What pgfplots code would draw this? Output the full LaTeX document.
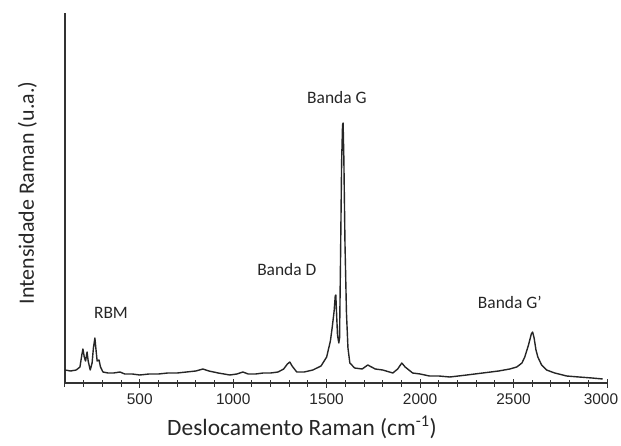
\documentclass[border=0pt]{standalone}
\usepackage{fontspec}
\setmainfont{Carlito}
\newfontfamily\arialf{Liberation Sans}
\usepackage{pgfplots}
\pgfplotsset{compat=1.18}

\begin{document}
\begin{tikzpicture}
\useasboundingbox (-65bp,-63bp) rectangle (556bp,383bp);
\begin{axis}[
    scale only axis,
    width=542bp,
    height=370bp,
    xmin=100, xmax=3000,
    ymin=0, ymax=370,
    axis lines*=left,
    axis line style={line width=1.3bp, black!80},
    xtick={500,1000,...,3000},
    xticklabels={500,1000,1500,2000,2500,{\hspace*{-12bp}3000}},
    minor xtick={100,200,...,3000},
    ytick=\empty,
    tick align=center,
    major tick length=9bp,
    minor tick length=7bp,
    tick style={line width=1bp, black!80},
    xticklabel style={font=\arialf\fontsize{15.5}{16}\selectfont, text=black!85, yshift=-3bp},
    /pgf/number format/assume math mode=true,
    /pgf/number format/1000 sep={},
    xlabel={Deslocamento Raman (cm\textsuperscript{-1})},
    ylabel={Intensidade Raman (u.a.)},
    xlabel style={font=\fontsize{23.5}{25}\selectfont, text=black!85, yshift=-4bp, xshift=-34bp},
    ylabel style={font=\fontsize{22}{24}\selectfont, text=black!85, yshift=20bp, xshift=5bp},
    clip=false,
]
\addplot[line width=1.4bp, black!85, line join=round] coordinates {
    (100,13) (130,12) (160,13) (180,16) (190,28) (196,34) (203,26) (210,22)
    (218,31) (224,22) (235,13) (245,20) (252,35) (260,45) (266,33) (272,22)
    (282,23) (290,16) (303,11) (330,10) (360,10) (394,11) (420,9) (460,9)
    (500,8) (550,9) (600,9) (650,10) (700,10) (750,11) (800,12) (838,14)
    (870,12) (920,10) (982,8) (1020,9) (1052,11) (1080,9) (1120,9) (1160,10)
    (1200,10) (1240,11) (1270,14) (1290,19) (1303,21) (1315,17) (1340,11)
    (1380,11) (1426,13) (1470,17) (1500,26) (1520,42) (1530,56) (1540,72)
    (1546,87) (1549,88) (1553,70) (1558,48) (1565,40) (1569,45) (1574,120)
    (1580,220) (1585,258) (1588,260) (1592,225) (1598,140) (1606,70)
    (1614,35) (1624,20) (1650,15) (1690,14) (1720,18) (1760,14) (1800,13)
    (1854,10) (1880,14) (1902,20) (1920,16) (1960,10) (2000,9) (2050,7)
    (2100,7) (2159,6) (2250,8) (2335,10) (2420,12) (2480,14) (2517,16)
    (2545,20) (2560,26) (2580,38) (2595,49) (2602,51) (2610,45) (2620,33)
    (2630,26) (2650,18) (2677,13) (2720,10) (2784,7) (2850,6) (2920,5) (2977,4)
};
\node[font=\fontsize{17.5}{18}\selectfont, text=black!85] at (axis cs:1555,285) {Banda G};
\node[font=\fontsize{17.5}{18}\selectfont, text=black!85] at (axis cs:1287,113) {Banda D};
\node[font=\fontsize{17.5}{18}\selectfont, text=black!85] at (axis cs:346,70) {RBM};
\node[font=\fontsize{17.5}{18}\selectfont, text=black!85] at (axis cs:2480,81) {Banda G'};
\end{axis}
\end{tikzpicture}
\end{document}
